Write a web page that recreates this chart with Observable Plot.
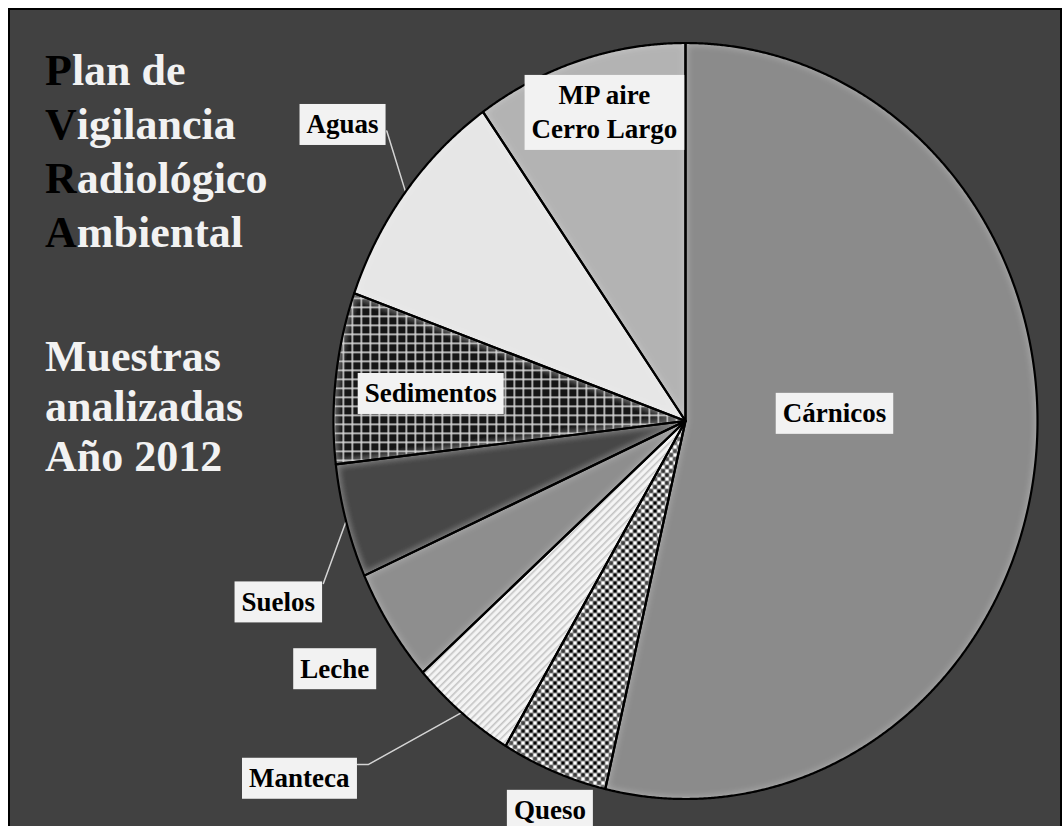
<!DOCTYPE html>
<html><head><meta charset="utf-8">
<script src="https://cdn.jsdelivr.net/npm/d3@7"></script>
<script src="https://cdn.jsdelivr.net/npm/@observablehq/plot@0.6"></script>
<style>
html,body{margin:0;padding:0;background:#fff;width:1063px;height:826px;overflow:hidden;position:relative;}
#frame{position:absolute;left:8px;top:8px;width:1050px;height:820px;border:2px solid #000;background:#414141;}
#chart{position:absolute;left:0;top:0;}
.ttl{position:absolute;left:45px;font-family:"Liberation Serif","Times New Roman",serif;font-weight:bold;font-size:44px;color:#f2f2f2;white-space:nowrap;}
.ttl b{color:#000;}
</style></head><body>
<div id="frame"></div>
<div id="chart"></div>
<div class="ttl" style="top:44px;line-height:54px"><b>P</b>lan de<br><b>V</b>igilancia<br><b>R</b>adiológico<br><b>A</b>mbiental</div>
<div class="ttl" style="top:332px;line-height:50px">Muestras<br>analizadas<br>Año 2012</div>
<script>
// ---- data ----
const categories = ["Cárnicos", "Queso", "Manteca", "Leche", "Suelos", "Sedimentos", "Aguas", "MP aire\nCerro Largo"];
const counts = [22, 2, 2, 2, 2, 3, 4, 4];

// ---- styles / layout ----
const fillStyles = ["#8b8b8b", "url(#pQueso)", "url(#pManteca)", "#8e8e8e", "#464646", "url(#pSed)", "#e6e6e6", "#b3b3b3"];
// label placement: [angle offset from slice middle (deg), radius as fraction of pie radius]
const labelPlace = [[-10.0, 0.424], [-1.35, 1.095], [9.9, 1.445], [-0.2, 1.19], [-6.9, 1.25], [-0.45, 0.728], [1.7, 1.254], [1.9, 0.853]];
// leader line waypoints after the rim point: [angle offset (deg), radius fraction]
const leaderPlace = {"Manteca": [[5.23, 1.279], [6.21, 1.3015]], "Suelos": [[-7.3, 1.115]], "Aguas": [[4.8, 1.144]]};

const deg = Math.PI / 180;
const arcs = d3.pie().sort(null).value(d => d)(counts);

const slicePts = [];
arcs.forEach((a, i) => {
  const cat = categories[i];
  slicePts.push({cat, x: 0, y: 0});
  const n = Math.max(2, Math.ceil((a.endAngle - a.startAngle) / (0.25 * deg)));
  for (let k = 0; k <= n; k++) {
    const t = a.startAngle + (a.endAngle - a.startAngle) * k / n;
    slicePts.push({cat, x: Math.sin(t), y: Math.cos(t)});
  }
  slicePts.push({cat, x: 0, y: 0});
});

const labels = arcs.map((a, i) => {
  const mid = (a.startAngle + a.endAngle) / 2 + labelPlace[i][0] * deg;
  const r = labelPlace[i][1];
  return {text: categories[i], x: r * Math.sin(mid), y: r * Math.cos(mid)};
});

const leaderPts = [];
arcs.forEach((a, i) => {
  const wp = leaderPlace[categories[i]];
  if (!wp) return;
  const mid = (a.startAngle + a.endAngle) / 2;
  leaderPts.push({cat: categories[i], x: Math.sin(mid), y: Math.cos(mid)});
  wp.forEach(([da, r]) => leaderPts.push({cat: categories[i], x: r * Math.sin(mid + da * deg), y: r * Math.cos(mid + da * deg)}));
});

const chart = Plot.plot({
  width: 1063, height: 826, margin: 0,
  x: {domain: [-1, 1], range: [333, 1037], axis: null},
  y: {domain: [-1, 1], range: [798.5, 42.5], axis: null},
  color: {domain: categories, range: fillStyles},
  style: {background: "transparent"},
  marks: [
    Plot.line(leaderPts, {x: "x", y: "y", z: "cat", stroke: "#d4d4d4", strokeWidth: 1.5, curve: "linear"}),
    Plot.line(slicePts, {x: "x", y: "y", z: "cat", fill: "cat", stroke: "none"}),
    Plot.line(slicePts, {x: "x", y: "y", z: "cat", stroke: "#000", strokeWidth: 2.2}),
    Plot.text(labels, {x: "x", y: "y", text: "text", fontSize: 27, fontWeight: "bold",
      fontFamily: "Liberation Serif, Times New Roman, serif", fill: "#000", lineHeight: 1.26})
  ]
});
document.getElementById("chart").append(chart);

// patterns
const svg = d3.select(chart);
const defs = svg.insert("defs", ":first-child");
const pq = defs.append("pattern").attr("id", "pQueso").attr("patternUnits", "userSpaceOnUse").attr("width", 8).attr("height", 8);
pq.append("rect").attr("width", 8).attr("height", 8).attr("fill", "#8a8a8a");
pq.append("rect").attr("x", 1).attr("y", 1).attr("width", 3).attr("height", 3).attr("fill", "#000");
pq.append("rect").attr("x", 5).attr("y", 1).attr("width", 3).attr("height", 3).attr("fill", "#fff");
pq.append("rect").attr("x", 1).attr("y", 5).attr("width", 3).attr("height", 3).attr("fill", "#fff");
pq.append("rect").attr("x", 5).attr("y", 5).attr("width", 3).attr("height", 3).attr("fill", "#000");
const pm = defs.append("pattern").attr("id", "pManteca").attr("patternUnits", "userSpaceOnUse").attr("width", 5).attr("height", 5).attr("patternTransform", "rotate(45)");
pm.append("rect").attr("width", 5).attr("height", 5).attr("fill", "#f4f4f4");
pm.append("rect").attr("width", 1.6).attr("height", 5).attr("fill", "#c4c4c4");
const ps = defs.append("pattern").attr("id", "pSed").attr("patternUnits", "userSpaceOnUse").attr("width", 9).attr("height", 9);
ps.append("rect").attr("width", 9).attr("height", 9).attr("fill", "#141414");
ps.append("rect").attr("width", 1.6).attr("height", 9).attr("fill", "#d8d8d8");
ps.append("rect").attr("width", 9).attr("height", 1.6).attr("fill", "#d8d8d8");

// soft bevel on slice fills (light inner edge), outlines drawn crisp on top
const f = defs.append("filter").attr("id", "bevel").attr("x", "-5%").attr("y", "-5%").attr("width", "110%").attr("height", "110%");
f.append("feGaussianBlur").attr("in", "SourceAlpha").attr("stdDeviation", 4).attr("result", "blur");
f.append("feComposite").attr("in", "SourceAlpha").attr("in2", "blur").attr("operator", "out").attr("result", "edge");
f.append("feFlood").attr("flood-color", "#ffffff").attr("flood-opacity", 0.3).attr("result", "flood");
f.append("feComposite").attr("in", "flood").attr("in2", "edge").attr("operator", "in").attr("result", "hl");
const fm = f.append("feMerge");
fm.append("feMergeNode").attr("in", "SourceGraphic");
fm.append("feMergeNode").attr("in", "hl");
const lineGroups = chart.querySelectorAll('g[aria-label="line"]');
if (lineGroups.length >= 2) d3.select(lineGroups[1]).selectAll("path").attr("filter", "url(#bevel)");

// label boxes
svg.selectAll('g[aria-label="text"] text').each(function() {
  const b = this.getBBox();
  const padX = 7, padY = 5.5;
  const r = document.createElementNS("http://www.w3.org/2000/svg", "rect");
  r.setAttribute("x", b.x - padX);
  r.setAttribute("y", b.y - padY);
  r.setAttribute("width", b.width + 2 * padX);
  r.setAttribute("height", b.height + 2 * padY);
  r.setAttribute("fill", "#f2f2f2");
  const tr = this.getAttribute("transform");
  if (tr) r.setAttribute("transform", tr);
  this.parentNode.insertBefore(r, this);
});
</script>
</body></html>
